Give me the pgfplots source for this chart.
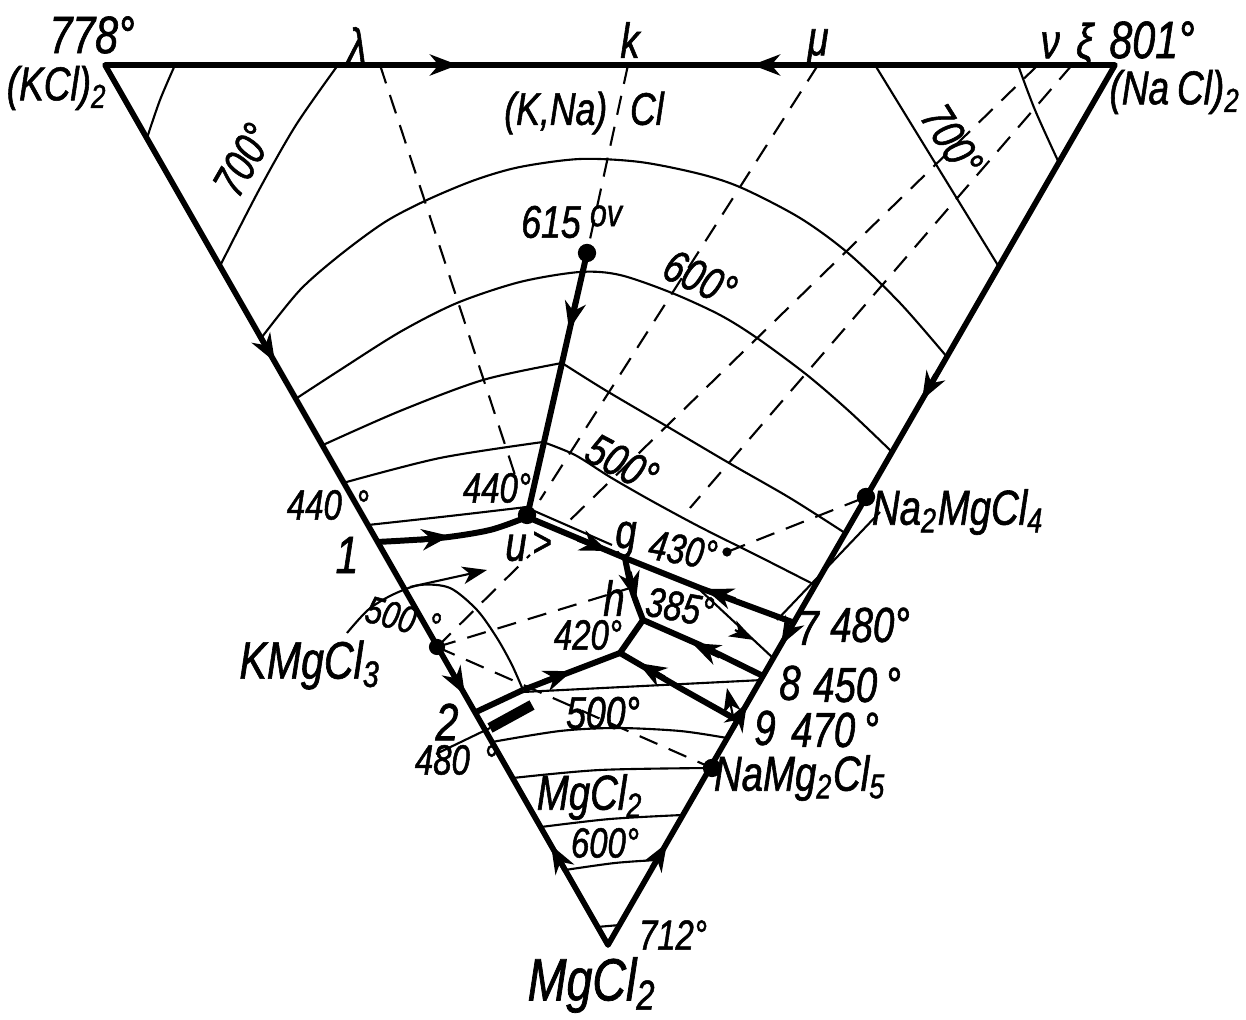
\documentclass[border=0pt]{standalone}
\usepackage{fontspec}
\setmainfont{Liberation Sans}[FakeStretch=0.78, FakeBold=1.2]
\usepackage{pgfplots}
\pgfplotsset{compat=1.18}
\usetikzlibrary{arrows.meta}
\newcommand{\fs}[1]{\fontsize{#1}{#1}\selectfont\itshape}

\begin{document}
\begin{tikzpicture}[every node/.append style={inner sep=1pt}]
\begin{axis}[
    width=12.46cm, height=10.2cm, scale only axis,
    xmin=0, xmax=1246, ymin=0, ymax=1020, y dir=reverse,
    hide axis, clip=false,
    edge/.style={black, line width=1.6pt, line join=round},
    heavy/.style={black, line width=1.7pt, line join=round},
    thin/.style={black, line width=0.6pt},
    dash/.style={black, line width=0.6pt, dash pattern=on 5.5pt off 3.5pt},
    arr/.style={black, line width=1.5pt, -{Stealth[length=8pt,width=6pt,inset=2.5pt]}},
    tarr/.style={black, line width=0.6pt, -{Stealth[length=7pt,width=5pt,inset=2pt]}},
    dot/.style={only marks, mark=*, black, mark size=#1},
  ]
  % page frame
  \addplot[draw=none] coordinates {(0,0)(1246,1020)};

  % triangle
  \addplot[edge] coordinates {(105,65)(1115,65)(608,945)(105,65)(120,65)};

  % isotherms, upper field
  \addplot[thin, smooth] coordinates {(175,65)(160,100)(147,138)};
  \addplot[thin, smooth] coordinates {(1018,65)(1035,110)(1059,163)};
  \addplot[thin, smooth] coordinates {(338,65)(296,125)(259,190)(220,266)};
  \addplot[thin, smooth] coordinates {(875,65)(921,140)(999,267)};
  \addplot[thin, smooth] coordinates {(262,337)(300,290)(340,255)(385,222)(427,200)(475,180)(520,167)(580,159)(640,162)(700,174)(742,188)(800,218)(848,253)(900,303)(947,357)};
  \addplot[thin, smooth] coordinates {(297,398)(340,370)(400,332)(457,303)(520,282)(580,272)(620,275)(672,293)(720,315)(757,338)(807,375)(850,412)(892,452)};
  \addplot[thin, smooth] coordinates {(323,445)(400,411)(483,380)(562,363)};
  \addplot[thin, smooth] coordinates {(562,363)(605,390)(668,427)(729,463)(790,498)(845,533)};
  \addplot[thin, smooth] coordinates {(343,483)(440,458)(543,442)};
  \addplot[thin, smooth] coordinates {(543,442)(575,455)(610,477)(650,500)(700,527)(760,557)(815,585)};
  \addplot[thin, smooth] coordinates {(368,525)(450,516)(527,507)};
  \addplot[thin] coordinates {(532,510)(612,545)};

  % isotherms, MgCl2 field
  \addplot[thin] coordinates {(523,692)(763,680)};
  \addplot[thin, smooth] coordinates {(492,742)(560,731)(617,728)(680,731)(727,738)};
  \addplot[thin, smooth] coordinates {(513,778)(600,770)(712,768)};
  \addplot[thin, smooth] coordinates {(541,827)(610,819)(683,815)};
  \addplot[thin, smooth] coordinates {(565,870)(615,863)(657,860)};
  \addplot[thin] coordinates {(597,927)(620,925)};
  \addplot[thin] coordinates {(436,754)(490,728)};

  % KMgCl3 dome
  \addplot[thin, smooth] coordinates {(347,633)(368,610)(392,595)(420,585)(450,588)(477,610)(497,638)(512,665)(523,690)};

  % conjugation (dashed) lines
  \addplot[dash] coordinates {(380,65)(515,475)};
  \addplot[dash] coordinates {(628,65)(587,253)};
  \addplot[dash] coordinates {(818,65)(540,500)};
  \addplot[dash] coordinates {(1038,65)(565,525)};
  \addplot[dash] coordinates {(1072,65)(690,508)};
  \addplot[dash] coordinates {(437,647)(712,768)};
  \addplot[dash] coordinates {(437,647)(640,585)};
  \addplot[dash] coordinates {(727,552)(866,497)};
  \addplot[dash] coordinates {(437,647)(530,555)};

  % thin construction lines
  \addplot[thin] coordinates {(880,512)(777,620)};
  \addplot[thin] coordinates {(700,590)(773,658)};
  \addplot[tarr] coordinates {(410,587)(487,570)};
  \addplot[tarr] coordinates {(733,716)(727,688)};
  \addplot[tarr] coordinates {(735,630)(754,640)};

  % boundary curves (heavy)
  \addplot[heavy] coordinates {(587,253)(527,517)};
  \addplot[heavy, smooth] coordinates {(377,542)(440,538)(490,530)(527,517)};
  \addplot[heavy] coordinates {(527,517)(570,535)(625,558)(700,588)(792,622)};
  \addplot[heavy, smooth] coordinates {(625,558)(632,590)(643,620)};
  \addplot[heavy] coordinates {(643,620)(700,645)(763,676)};
  \addplot[heavy] coordinates {(643,620)(620,653)};
  \addplot[heavy] coordinates {(620,653)(680,688)(737,720)};
  \addplot[heavy] coordinates {(620,653)(523,690)};
  \addplot[heavy] coordinates {(523,690)(476,712)};
  \addplot[black, line width=3pt] coordinates {(490,728)(532,705)};

  % arrows on edges
  \addplot[arr] coordinates {(420,65)(458,65)};
  \addplot[arr] coordinates {(790,65)(752,65)};
  \addplot[arr] coordinates {(260,336)(275,362)};
  \addplot[arr] coordinates {(451,670)(465,695)};
  \addplot[arr] coordinates {(565,870)(551,845)};
  \addplot[arr] coordinates {(936,375)(922,400)};
  \addplot[arr] coordinates {(795,620)(781,645)};
  \addplot[arr] coordinates {(733,728)(747,703)};
  \addplot[arr] coordinates {(652,868)(667,843)};

  % arrows on boundary curves
  \addplot[arr] coordinates {(576,300)(569,330)};
  \addplot[arr] coordinates {(420,540)(450,536)};
  \addplot[arr] coordinates {(578,539)(608,551)};
  \addplot[arr] coordinates {(735,600)(705,589)};
  \addplot[arr] coordinates {(629,572)(636,600)};
  \addplot[arr] coordinates {(720,656)(692,643)};
  \addplot[arr] coordinates {(664,678)(638,663)};
  \addplot[arr] coordinates {(543,682)(572,671)};

  % points
  \addplot[dot=2.4pt] coordinates {(587,253)(866,497)(712,768)(527,515)};
  \addplot[dot=2.1pt] coordinates {(437,647)};
  \addplot[dot=1.1pt] coordinates {(727,552)};

  % labels
  \node[font=\fs{15}] at (axis cs:92,35) {778°};
  \node[font=\fs{13.5}] at (axis cs:57,88) {(KCl)\textsubscript{2}};
  \node[font=\fs{14}] at (axis cs:357,45) {λ};
  \node[font=\fs{14}] at (axis cs:630,40) {k};
  \node[font=\fs{14}] at (axis cs:818,47) {μ};
  \node[font=\fs{14}] at (axis cs:1067,45) {ν\,\,ξ};
  \node[font=\fs{15}] at (axis cs:1152,40) {801°};
  \node[font=\fs{13.5}] at (axis cs:1175,92) {(Na\,Cl)\textsubscript{2}};
  \node[font=\fs{13}] at (axis cs:584,113) {(K,Na)\,\,\,Cl};
  \node[font=\fs{13}, rotate=60] at (axis cs:243,160) {700°};
  \node[font=\fs{13}, rotate=-58] at (axis cs:952,140) {700°};
  \node[font=\fs{13}] at (axis cs:551,222) {615};
  \node[font=\fs{11}] at (axis cs:606,216) {ov};
  \node[font=\fs{13}, rotate=-25] at (axis cs:700,278) {600°};
  \node[font=\fs{13}, rotate=-28] at (axis cs:622,463) {500°};
  \node[font=\fs{12}] at (axis cs:328,505) {440\,\,°};
  \node[font=\fs{15}] at (axis cs:347,555) {1};
  \node[font=\fs{12}] at (axis cs:497,488) {440°};
  \node[font=\fs{14}] at (axis cs:516,548) {u};
  \node[font=\fs{12}] at (axis cs:542,544) {>};
  \node[font=\fs{14}] at (axis cs:626,540) {g};
  \node[font=\fs{12}, rotate=-10] at (axis cs:683,550) {430°};
  \node[font=\fs{14}] at (axis cs:614,598) {h};
  \node[font=\fs{12}, rotate=-10] at (axis cs:680,607) {385°};
  \node[font=\fs{12}] at (axis cs:588,635) {420°};
  \node[font=\fs{11}, rotate=-15] at (axis cs:403,618) {500\,\,°};
  \node[font=\fs{15}] at (axis cs:310,665) {KMgCl\textsubscript{3}};
  \node[font=\fs{15}] at (axis cs:447,722) {2};
  \node[font=\fs{12}] at (axis cs:456,760) {480\,\,°};
  \node[font=\fs{13}] at (axis cs:603,713) {500°};
  \node[font=\fs{14}] at (axis cs:808,628) {7};
  \node[font=\fs{14}] at (axis cs:870,625) {480°};
  \node[font=\fs{14}] at (axis cs:790,683) {8};
  \node[font=\fs{14}] at (axis cs:857,685) {450\,°};
  \node[font=\fs{14}] at (axis cs:765,728) {9};
  \node[font=\fs{14}] at (axis cs:835,730) {470\,°};
  \node[font=\fs{14}] at (axis cs:800,778) {NaMg\textsubscript{2}Cl\textsubscript{5}};
  \node[font=\fs{14}] at (axis cs:958,512) {Na\textsubscript{2}MgCl\textsubscript{4}};
  \node[font=\fs{14}] at (axis cs:590,797) {MgCl\textsubscript{2}};
  \node[font=\fs{12}] at (axis cs:605,843) {600°};
  \node[font=\fs{12}] at (axis cs:673,935) {712°};
  \node[font=\fs{17}] at (axis cs:592,985) {MgCl\textsubscript{2}};
\end{axis}
\end{tikzpicture}
\end{document}
